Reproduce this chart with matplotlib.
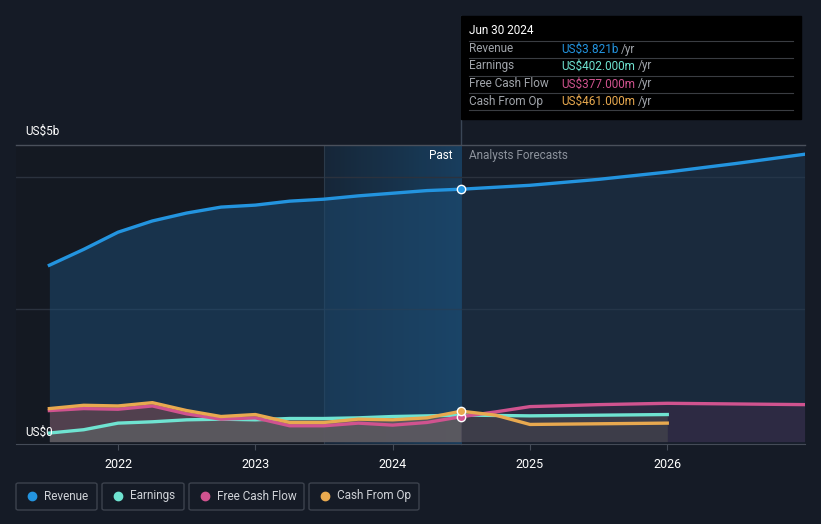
import numpy as np
import matplotlib.pyplot as plt
from matplotlib.patches import FancyBboxPatch, Rectangle

plt.rcParams["font.family"] = ["Roboto", "DejaVu Sans"]

# past quarters (decimal years) and values in US$ billions
past_x = [2021.5, 2021.75, 2022.0, 2022.25, 2022.5, 2022.75, 2023.0,
          2023.25, 2023.5, 2023.75, 2024.0, 2024.25, 2024.5]
rev_past = [2.67, 2.91, 3.17, 3.34, 3.46, 3.55, 3.58, 3.64, 3.67, 3.72, 3.76, 3.80, 3.821]
earn_past = [0.13, 0.18, 0.28, 0.30, 0.33, 0.34, 0.33, 0.35, 0.35, 0.36, 0.38, 0.39, 0.402]
fcf_past = [0.47, 0.50, 0.49, 0.54, 0.42, 0.34, 0.36, 0.24, 0.24, 0.28, 0.25, 0.29, 0.377]
cfo_past = [0.50, 0.55, 0.54, 0.59, 0.47, 0.38, 0.41, 0.29, 0.29, 0.34, 0.33, 0.36, 0.461]

# analyst forecasts
rev_fx = [2024.5, 2025.0, 2025.5, 2026.0, 2026.5, 2027.0]
rev_fc = [3.821, 3.88, 3.97, 4.08, 4.21, 4.35]
earn_fx = [2024.5, 2025.0, 2026.0]
earn_fc = [0.402, 0.39, 0.41]
fcf_fx = [2024.5, 2024.75, 2025.0, 2025.5, 2026.0, 2027.0]
fcf_fc = [0.377, 0.45, 0.53, 0.56, 0.58, 0.56]
cfo_fx = [2024.5, 2024.75, 2025.0, 2026.0]
cfo_fc = [0.461, 0.40, 0.26, 0.28]

years = [2022, 2023, 2024, 2025, 2026]
names = ["Revenue", "Earnings", "Free Cash Flow", "Cash From Op"]
tip_vals = ["US$3.821b", "US$402.000m", "US$377.000m", "US$461.000m"]

BG = "#151b26"
C_REV = "#2394df"
C_EARN = "#6fe3d1"
C_FCF = "#d0538f"
C_CFO = "#e8a94f"

fig = plt.figure(figsize=(8.21, 5.24), dpi=100, facecolor=BG)
W, H = 821, 524


def fx(px):
    return px / W


def fy(py):
    return 1 - py / H


ax = fig.add_axes([fx(16), fy(444), fx(805) - fx(16), fy(145) - fy(444)])
ax.set_facecolor("#171e2a")
x0, x1 = 2021.257, 2027.003
y0, y1 = -0.036, 4.49
ax.set_xlim(x0, x1)
ax.set_ylim(y0, y1)

# darker region before the highlighted year
ax.axvspan(x0, 2023.5, color="#12161e", alpha=0.6, lw=0, zorder=0)

# past highlight gradient
grad = np.linspace(0, 1, 256).reshape(1, -1)
ax.imshow(grad, extent=[2023.5, 2024.5, y0, y1], aspect="auto",
          cmap=plt.matplotlib.colors.LinearSegmentedColormap.from_list(
              "g", ["#16283a", "#1a4264"]), alpha=0.9, zorder=0.5)

# gridlines
for gy in [2.0, 4.0]:
    ax.axhline(gy, color="#2b323e", lw=1, zorder=1)
ax.axvline(2023.5, color="#2b3a4a", lw=0.8, zorder=1)

# revenue fill
ax.fill_between(past_x, 0, rev_past, color="#1d4a70", alpha=0.55, lw=0, zorder=2)
ax.fill_between(rev_fx, 0, rev_fc, color="#1e3a55", alpha=0.45, lw=0, zorder=2)

# lower series fills
ax.fill_between(past_x, 0, cfo_past, color="#6a4650", alpha=0.7, lw=0, zorder=3)
ax.fill_between(past_x, 0, earn_past, color="#5c5d62", alpha=0.8, lw=0, zorder=3)
ax.fill_between(fcf_fx, 0, fcf_fc, color="#3a2a48", alpha=0.6, lw=0, zorder=3)
ax.fill_between(earn_fx, 0, earn_fc, color="#44464c", alpha=0.7, lw=0, zorder=3)

# lines
ax.plot(past_x + rev_fx[1:], rev_past + rev_fc[1:], color=C_REV, lw=2.4, zorder=6)
ax.plot(past_x + earn_fx[1:], earn_past + earn_fc[1:], color=C_EARN, lw=2.4, zorder=5)
ax.plot(past_x + fcf_fx[1:], fcf_past + fcf_fc[1:], color=C_FCF, lw=2.4, zorder=5)
ax.plot(past_x + cfo_fx[1:], cfo_past + cfo_fc[1:], color=C_CFO, lw=2.4, zorder=5)

# markers at the tooltip date
for v, c in [(rev_past[-1], C_REV), (fcf_past[-1], C_FCF), (cfo_past[-1], C_CFO)]:
    ax.plot([2024.5], [v], "o", ms=6, color=c, mec="white", mew=1, zorder=8)

# axes styling
for s in ["left", "right", "top"]:
    ax.spines[s].set_visible(False)
ax.spines["bottom"].set_color("#444b57")
ax.axhline(y1, color="#4a505b", lw=1, clip_on=False, zorder=7)
ax.set_yticks([])
ax.set_xticks(years)
ax.set_xticklabels([str(y) for y in years], color="white", fontsize=9)
ax.tick_params(axis="x", colors="#444b57", length=4, labelcolor="white", pad=6)

# tooltip vertical line
fig.add_artist(plt.Line2D([fx(461), fx(461)], [fy(16), fy(444)],
                          color="#3a4656", lw=1, zorder=0))

fig.text(fx(25), fy(131), "US$5b", color="white", fontsize=8.5, va="center")
fig.text(fx(25), fy(432), "US$0", color="white", fontsize=8.5, va="center")
fig.text(fx(453), fy(156), "Past", color="white", fontsize=8.5, ha="right", va="center")
fig.text(fx(469), fy(156), "Analysts Forecasts", color="#8c929c", fontsize=8.5,
         va="center")

# tooltip box
fig.add_artist(Rectangle((fx(461), fy(119)), fx(801) - fx(461), fy(16) - fy(119),
                         transform=fig.transFigure, color="black", zorder=10))
fig.text(fx(469), fy(30), "Jun 30 2024", color="white", fontsize=8.5, va="center",
         zorder=11)
row_y = [49, 66, 84, 101]
for i, (n, v, c) in enumerate(zip(names, tip_vals, [C_REV, C_EARN, C_FCF, C_CFO])):
    fig.add_artist(plt.Line2D([fx(469), fx(793)], [fy(row_y[i] - 8), fy(row_y[i] - 8)],
                              color="#3a3d42", lw=0.8, zorder=11))
    fig.text(fx(469), fy(row_y[i]), n, color="#a0a4aa", fontsize=8.5, va="center",
             zorder=11)
    t = fig.text(fx(561), fy(row_y[i]), v, color=c, fontsize=8.5, va="center", zorder=11)
    fig.canvas.draw()
    bb = t.get_window_extent()
    fig.text(bb.x1 / W + fx(3), fy(row_y[i]), "/yr", color="#a0a4aa", fontsize=8.5,
             va="center", zorder=11)
fig.add_artist(plt.Line2D([fx(469), fx(793)], [fy(110), fy(110)],
                          color="#3a3d42", lw=0.8, zorder=11))

# legend boxes
boxes = [(16, 97), (102, 184), (189, 304), (309, 419)]
for (bx0, bx1), n, c in zip(boxes, names, [C_REV, C_EARN, C_FCF, C_CFO]):
    fig.add_artist(FancyBboxPatch((fx(bx0), fy(510)), fx(bx1) - fx(bx0),
                                  fy(483) - fy(510), boxstyle="round,pad=0,rounding_size=0.003",
                                  transform=fig.transFigure, fc="none",
                                  ec="#3c424d", lw=1))
    fig.add_artist(plt.Line2D([fx(bx0 + 16)], [fy(496)], marker="o", ms=6,
                              color=c, transform=fig.transFigure))
    fig.text(fx(bx0 + 28), fy(496), n, color="#d0d3d8", fontsize=8.5, va="center")

fig.savefig("out.png", dpi=100, facecolor=BG)
